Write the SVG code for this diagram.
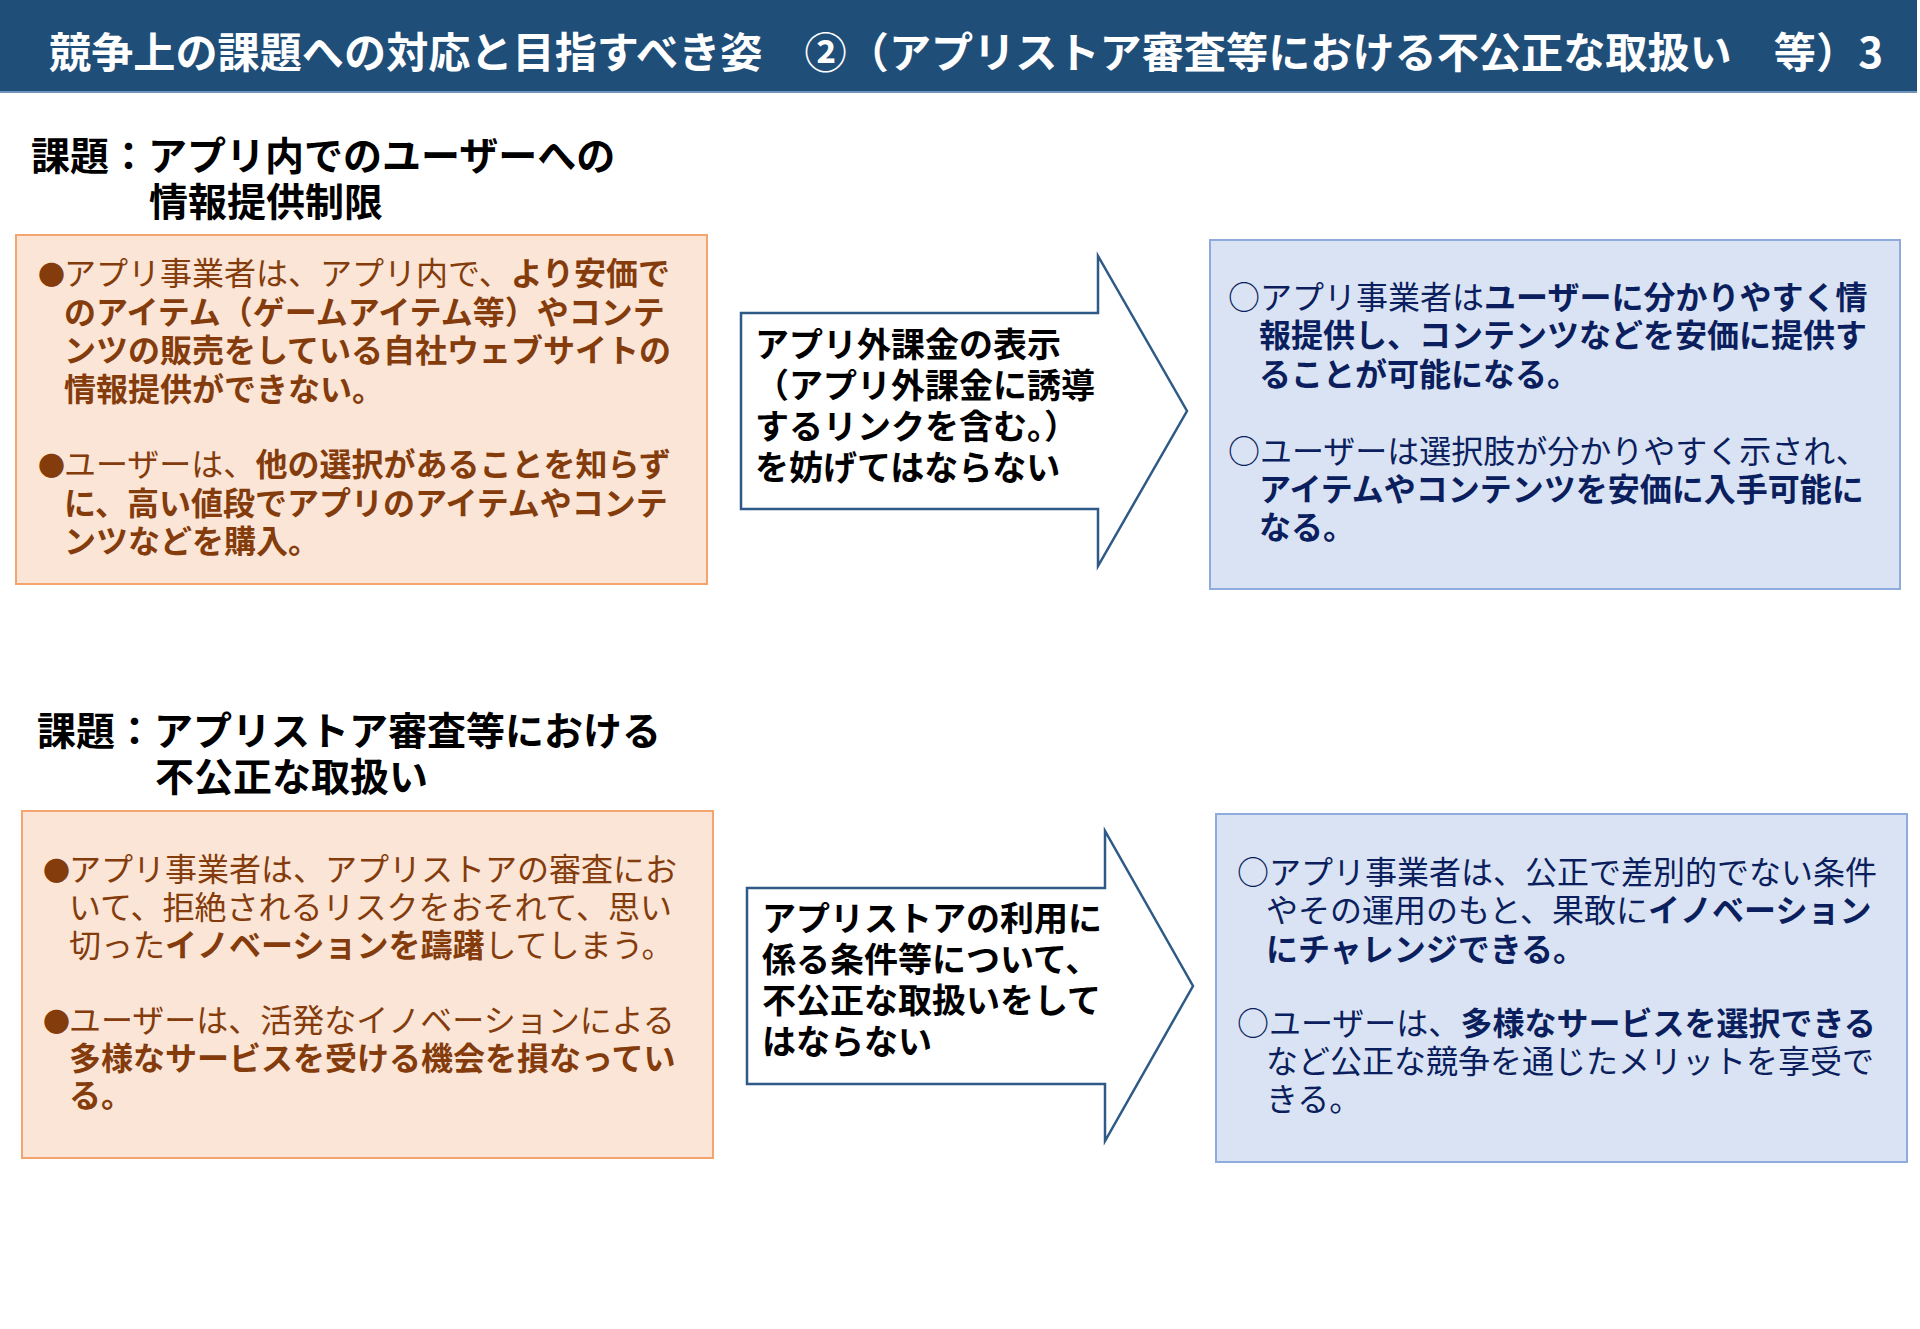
<svg xmlns="http://www.w3.org/2000/svg" width="1920" height="1329" viewBox="0 0 1920 1329">
<style>
text{font-family:"Noto Sans CJK JP","Noto Sans",sans-serif}
.title{font-size:42px;font-weight:700;fill:#fff}
.head{font-size:39px;font-weight:700;fill:#000}
.issue{fill:#FBE5D6;stroke:#F4A46E;stroke-width:2}
.goal{fill:#DAE3F3;stroke:#8FAADC;stroke-width:2}
.itx{font-size:32px;fill:#843C0C;font-weight:400}
.gtx{font-size:32px;fill:#0B1F5E;font-weight:400}
.b{font-weight:700}
.arrow{fill:#fff;stroke:#2E5A87;stroke-width:2.5;stroke-linejoin:miter}
.atx{font-size:34px;font-weight:700;fill:#000}
.dot{font-size:27px}
</style>
<rect width="1920" height="1329" fill="#fff"/>
<g id="header">
<rect x="0" y="0" width="1917" height="91" fill="#1F4E79"/>
<rect x="0" y="91" width="1917" height="2" fill="#6F93BA"/>
<text class="title" x="49" y="68" textLength="1834" lengthAdjust="spacingAndGlyphs">競争上の課題への対応と目指すべき姿　②（アプリストア審査等における不公正な取扱い　等）3</text>
</g>

<g id="heading1">
<text class="head" x="31" y="170">課題：アプリ内でのユーザーへの</text>
<text class="head" x="149" y="216">情報提供制限</text>
</g>

<g id="issue1">
<rect class="issue" x="16" y="235" width="691" height="349"/>
<text class="itx" x="38" y="285"><tspan class="dot">●</tspan><tspan x="64">アプリ事業者は、アプリ内で、</tspan><tspan class="b">より安価で</tspan></text>
<text class="itx b" x="64" y="324">のアイテム（ゲームアイテム等）やコンテ</text>
<text class="itx b" x="64" y="362">ンツの販売をしている自社ウェブサイトの</text>
<text class="itx b" x="64" y="401">情報提供ができない。</text>
<text class="itx" x="38" y="476"><tspan class="dot">●</tspan><tspan x="64">ユーザーは、</tspan><tspan class="b">他の選択があることを知らず</tspan></text>
<text class="itx b" x="64" y="515">に、高い値段でアプリのアイテムやコンテ</text>
<text class="itx b" x="64" y="553">ンツなどを購入。</text>
</g>

<g id="goal1">
<rect class="goal" x="1210" y="240" width="690" height="349"/>
<text class="gtx" x="1228" y="309">○アプリ事業者は<tspan class="b">ユーザーに分かりやすく情</tspan></text>
<text class="gtx b" x="1259" y="347">報提供し、コンテンツなどを安価に提供す</text>
<text class="gtx b" x="1259" y="386">ることが可能になる。</text>
<text class="gtx" x="1228" y="463">○ユーザーは選択肢が分かりやすく示され、</text>
<text class="gtx b" x="1259" y="501">アイテムやコンテンツを安価に入手可能に</text>
<text class="gtx b" x="1259" y="539">なる。</text>
</g>

<g id="heading2">
<text class="head" x="37" y="745">課題：アプリストア審査等における</text>
<text class="head" x="155" y="791">不公正な取扱い</text>
</g>

<g id="issue2">
<rect class="issue" x="22" y="811" width="691" height="347"/>
<text class="itx" x="43" y="881"><tspan class="dot">●</tspan><tspan x="69">アプリ事業者は、アプリストアの審査にお</tspan></text>
<text class="itx" x="69" y="919">いて、拒絶されるリスクをおそれて、思い</text>
<text class="itx" x="69" y="957">切った<tspan class="b">イノベーションを躊躇</tspan>してしまう。</text>
<text class="itx" x="43" y="1032"><tspan class="dot">●</tspan><tspan x="69">ユーザーは、活発なイノベーションによる</tspan></text>
<text class="itx b" x="69" y="1070">多様なサービスを受ける機会を損なってい</text>
<text class="itx b" x="69" y="1107">る。</text>
</g>

<g id="goal2">
<rect class="goal" x="1216" y="814" width="691" height="348"/>
<text class="gtx" x="1237" y="884">○アプリ事業者は、公正で差別的でない条件</text>
<text class="gtx" x="1266" y="922">やその運用のもと、果敢に<tspan class="b">イノベーション</tspan></text>
<text class="gtx b" x="1266" y="961">にチャレンジできる。</text>
<text class="gtx" x="1237" y="1035">○ユーザーは、<tspan class="b">多様なサービスを選択できる</tspan></text>
<text class="gtx" x="1266" y="1073">など公正な競争を通じたメリットを享受で</text>
<text class="gtx" x="1266" y="1111">きる。</text>
</g>

<g id="connectors">
<g id="arrow1">
<polygon class="arrow" points="741,313 1098,313 1098,256 1187,411 1098,566 1098,509 741,509"/>
<text class="atx" x="755" y="357">アプリ外課金の表示</text>
<text class="atx" x="755" y="398">（アプリ外課金に誘導</text>
<text class="atx" x="755" y="439">するリンクを含む。）</text>
<text class="atx" x="755" y="480">を妨げてはならない</text>
</g>
<g id="arrow2">
<polygon class="arrow" points="747,888 1105,888 1105,831 1193,986 1105,1141 1105,1084 747,1084"/>
<text class="atx" x="762" y="931">アプリストアの利用に</text>
<text class="atx" x="762" y="972">係る条件等について、</text>
<text class="atx" x="762" y="1013">不公正な取扱いをして</text>
<text class="atx" x="762" y="1054">はならない</text>
</g>
</g>
</svg>
